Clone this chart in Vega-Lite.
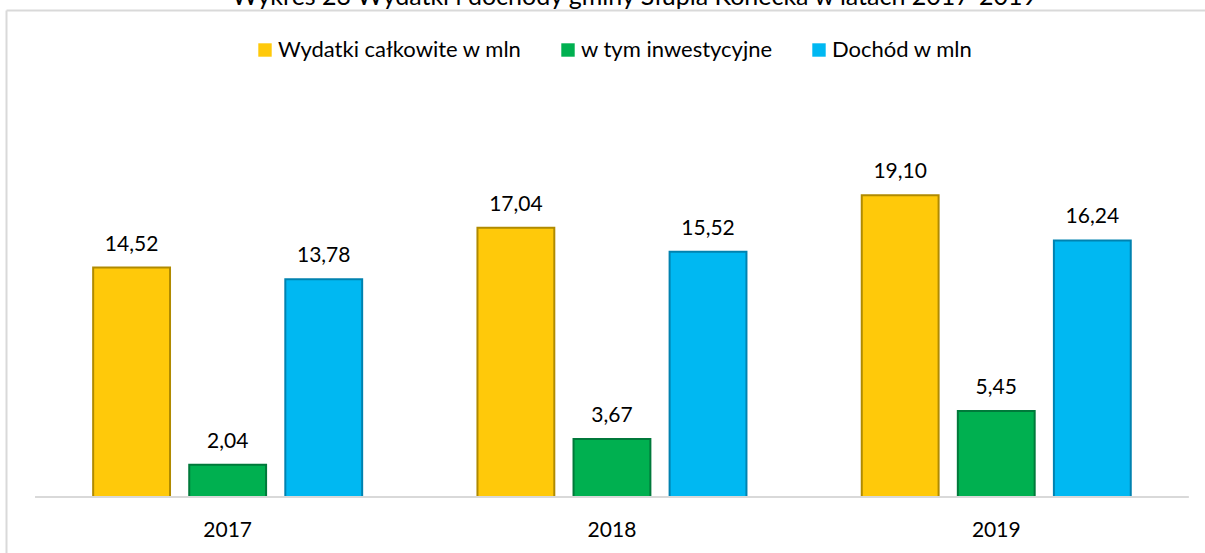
{
  "$schema": "https://vega.github.io/schema/vega-lite/v6.json",
  "width": 1199,
  "height": 543,
  "autosize": {"type": "none"},
  "padding": {"left": 6, "top": 10, "right": 0, "bottom": 0},
  "background": "white",
  "title": {
    "text": "Wykres 23 Wydatki i dochody gminy Słupia Konecka w latach 2017-2019",
    "font": "Lato",
    "fontSize": 25,
    "fontWeight": "normal",
    "color": "#000000",
    "anchor": "middle",
    "baseline": "alphabetic",
    "offset": 0,
    "dx": 29,
    "dy": 20
  },
  "config": {
    "view": {"stroke": null},
    "font": "Lato",
    "locale": {
      "number": {"decimal": ",", "thousands": " ", "grouping": [3], "currency": ["", " zł"]}
    }
  },
  "data": {
    "values": [
      {"rok": "2017", "seria": "Wydatki całkowite w mln", "wartosc": 14.52},
      {"rok": "2017", "seria": "w tym inwestycyjne", "wartosc": 2.04},
      {"rok": "2017", "seria": "Dochód w mln", "wartosc": 13.78},
      {"rok": "2018", "seria": "Wydatki całkowite w mln", "wartosc": 17.04},
      {"rok": "2018", "seria": "w tym inwestycyjne", "wartosc": 3.67},
      {"rok": "2018", "seria": "Dochód w mln", "wartosc": 15.52},
      {"rok": "2019", "seria": "Wydatki całkowite w mln", "wartosc": 19.10},
      {"rok": "2019", "seria": "w tym inwestycyjne", "wartosc": 5.45},
      {"rok": "2019", "seria": "Dochód w mln", "wartosc": 16.24}
    ]
  },
  "layer": [
    {
      "mark": {"type": "bar", "strokeWidth": 2},
      "encoding": {
        "x": {
          "field": "rok", "type": "nominal",
          "scale": {"paddingInner": 0.3, "paddingOuter": 0.21, "align": 0.54},
          "axis": {"orient": "bottom", "offset": -56, "domain": false, "ticks": false, "labelPadding": 22, "labelFontSize": 21, "labelColor": "#000000", "labelAngle": 0, "title": null}
        },
        "xOffset": {
          "field": "seria", "type": "nominal",
          "sort": ["Wydatki całkowite w mln", "w tym inwestycyjne", "Dochód w mln"],
          "scale": {"paddingInner": 0.2}
        },
        "y": {
          "field": "wartosc", "type": "quantitative",
          "scale": {"domain": [-3.544, 30.82], "nice": false, "zero": false},
          "axis": {"values": [30.82], "grid": true, "gridColor": "#d9d9d9", "gridWidth": 2, "labels": false, "ticks": false, "domain": true, "domainColor": "#d9d9d9", "domainWidth": 2, "title": null}
        },
        "color": {
          "field": "seria", "type": "nominal",
          "sort": ["Wydatki całkowite w mln", "w tym inwestycyjne", "Dochód w mln"],
          "scale": {"range": ["#FFC90A", "#00B050", "#00B8F2"]},
          "legend": {"orient": "none", "legendX": 248, "legendY": 29, "direction": "horizontal", "title": null, "symbolType": "square", "symbolSize": 180, "labelFontSize": 22, "labelLimit": 500, "labelColor": "#000000", "columnPadding": 35, "labelOffset": 2, "symbolStrokeWidth": 0}
        },
        "stroke": {
          "field": "seria", "type": "nominal",
          "sort": ["Wydatki całkowite w mln", "w tym inwestycyjne", "Dochód w mln"],
          "scale": {"range": ["#B08A00", "#00793A", "#0082B0"]},
          "legend": null
        }
      }
    },
    {
      "mark": {"type": "text", "fontSize": 21, "dy": -17, "baseline": "alphabetic", "color": "#000000"},
      "encoding": {
        "x": {"field": "rok", "type": "nominal"},
        "xOffset": {"field": "seria", "type": "nominal", "sort": ["Wydatki całkowite w mln", "w tym inwestycyjne", "Dochód w mln"]},
        "y": {"field": "wartosc", "type": "quantitative"},
        "text": {"field": "wartosc", "type": "quantitative", "format": ".2f"}
      }
    },
    {
      "data": {"values": [{}]},
      "mark": {"type": "rule", "color": "#d9d9d9", "strokeWidth": 2},
      "encoding": {
        "x": {"datum": "2017", "bandPosition": -0.216},
        "x2": {"datum": "2019", "bandPosition": 1.216},
        "y": {"datum": 0}
      }
    }
  ]
}
